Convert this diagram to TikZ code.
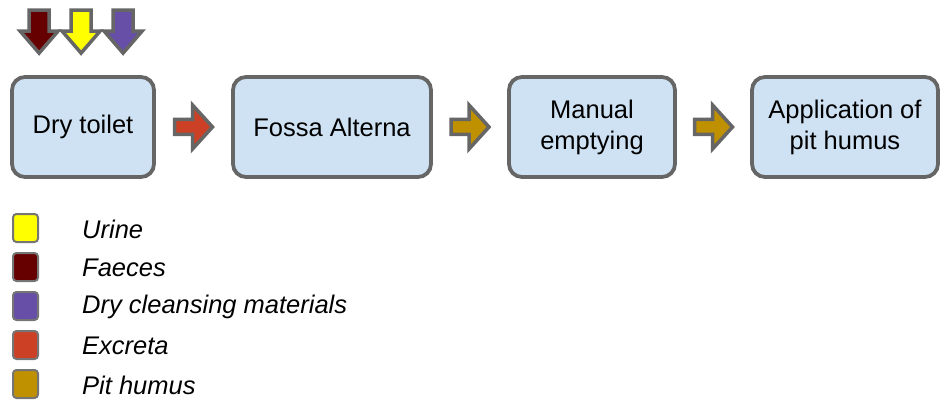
\documentclass[tikz,border=0pt]{standalone}
\usepackage{fontspec}
\setmainfont{Liberation Sans}
\usetikzlibrary{calc}

\definecolor{boxfill}{HTML}{CFE2F3}
\definecolor{edgegray}{HTML}{666666}
\definecolor{faeces}{HTML}{660000}
\definecolor{urine}{HTML}{FFFF00}
\definecolor{cleansing}{HTML}{674EA7}
\definecolor{excreta}{HTML}{CC4125}
\definecolor{humus}{HTML}{BF9000}

\tikzset{
  stepbox/.style={rectangle, rounded corners=13pt, draw=edgegray, line width=3.8pt,
    fill=boxfill, minimum height=100pt, inner sep=0pt, align=center,
    font=\fontsize{25.5}{31}\selectfont},
  swatch/.style={rectangle, rounded corners=3.5pt, draw=edgegray!90, line width=2pt,
    minimum width=25pt, minimum height=28pt, inner sep=0pt},
  legendtext/.style={anchor=west, inner sep=0pt, font=\fontsize{25.5}{31}\selectfont\itshape},
  flowarrow/.style={draw=edgegray, line width=3.5pt, line join=miter},
  rightarrow/.pic={
    \path[flowarrow, pic actions] (-19,-7.5) -- (-1,-7.5) -- (-1,-22) -- (19,0)
      -- (-1,22) -- (-1,7.5) -- (-19,7.5) -- cycle;
  },
  downarrow/.pic={
    \path[flowarrow, pic actions] (-10,0) -- (10,0) -- (10,21) -- (19,21)
      -- (0,43) -- (-19,21) -- (-10,21) -- cycle;
  }
}

\begin{document}
\begin{tikzpicture}[x=1pt, y=-1pt]
  \useasboundingbox (0,0) rectangle (942,401);

  % process steps
  \node[stepbox, minimum width=142pt] (dry)    at (83,127)    {Dry toilet};
  \node[stepbox, minimum width=198pt] (fossa)  at (332,127)   {Fossa Alterna};
  \node[stepbox, minimum width=166pt] (manual) at (592,127)   {Manual\\emptying};
  \node[stepbox, minimum width=186pt] (apply)  at (845,127)   {Application of\\pit humus};

  % flows between the steps
  \coordinate (f1) at ($(dry.east)!0.5!(fossa.west)$);
  \coordinate (f2) at ($(fossa.east)!0.5!(manual.west)$);
  \coordinate (f3) at ($(manual.east)!0.5!(apply.west)$);
  \pic[fill=excreta] at (f1) {rightarrow};
  \pic[fill=humus]   at (f2) {rightarrow};
  \pic[fill=humus]   at (f3) {rightarrow};

  % inputs to the toilet
  \coordinate (in1) at ($(dry.north west)+(29,-65)$);
  \coordinate (in2) at ($(in1)+(42,0)$);
  \coordinate (in3) at ($(in2)+(42,0)$);
  \pic[fill=faeces]    at (in1) {downarrow};
  \pic[fill=urine]     at (in2) {downarrow};
  \pic[fill=cleansing] at (in3) {downarrow};

  % legend
  \node[swatch, fill=urine]     (s1) at (25.5,228) {};
  \node[swatch, fill=faeces]    (s2) at (25.5,267) {};
  \node[swatch, fill=cleansing] (s3) at (25.5,306) {};
  \node[swatch, fill=excreta]   (s4) at (25.5,345) {};
  \node[swatch, fill=humus]     (s5) at (25.5,384) {};
  \node[legendtext] (l1) at (82,229) {Urine};
  \node[legendtext] (l2) at (82,268) {Faeces};
  \node[legendtext] (l3) at (82,307) {Dry cleansing materials};
  \node[legendtext] (l4) at (82,346) {Excreta};
  \node[legendtext] (l5) at (82,385) {Pit humus};
\end{tikzpicture}
\end{document}
